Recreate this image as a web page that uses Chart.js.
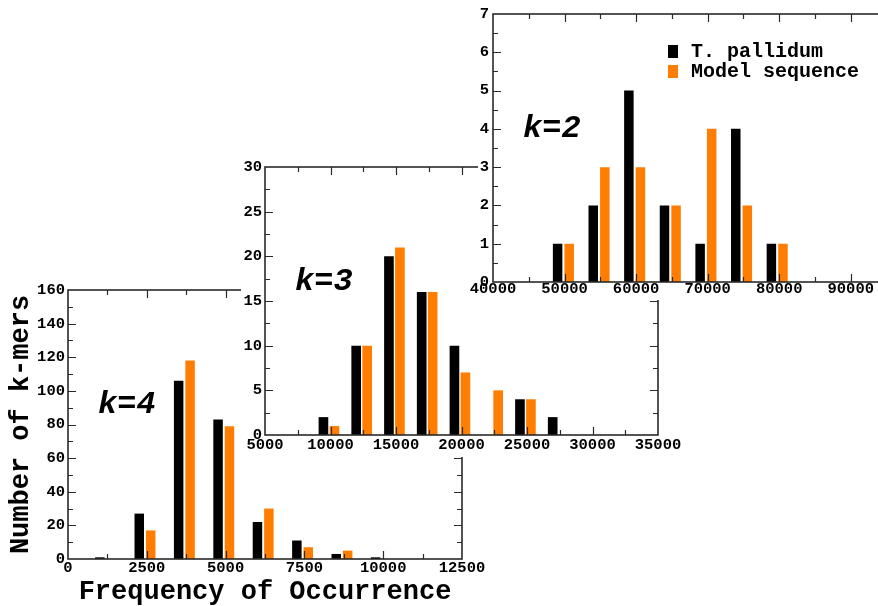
<!DOCTYPE html>
<html>
<head>
<meta charset="utf-8">
<script src="https://cdn.jsdelivr.net/npm/chart.js@4.4.0/dist/chart.umd.min.js"></script>
<style>
  body { margin: 0; background: #fff; }
  #figure { position: relative; width: 878px; height: 606px; overflow: hidden; background: #fff; }
  .panel { position: absolute; background: #fff; }
  canvas { display: block; }
</style>
</head>
<body>
<div id="figure">
  <div class="panel" style="left:0;top:0;width:878px;height:606px"><canvas id="chartK4" width="878" height="606"></canvas></div>
  <div class="panel" style="left:241px;top:150px;width:459px;height:307px"><canvas id="chartK3" width="459" height="307"></canvas></div>
  <!-- canvas hangs 13px left of the white box so the first tick label is not cut -->
  <div class="panel" style="left:478px;top:0;width:420px;height:300px"><canvas id="chartK2" width="433" height="300" style="margin-left:-13px"></canvas></div>
</div>
<script>
// k=4
const k4Bins = [-58, 1192, 2442, 3692, 4942, 6192, 7442, 8692, 9942];
const k4Pallidum = [0, 1, 27, 106, 83, 22, 11, 3, 1];
const k4Model = [0, 0, 17, 118, 79, 30, 7, 5, 0];
const k4XTicks = [0, 2500, 5000, 7500, 10000, 12500];
const k4YTicks = [0, 20, 40, 60, 80, 100, 120, 140, 160];

// k=3
const k3Bins = [7380, 9880, 12380, 14880, 17380, 19880, 22380, 24880, 27380];
const k3Pallidum = [0, 2, 10, 20, 16, 10, 0, 4, 2];
const k3Model = [0, 1, 10, 21, 16, 7, 5, 4, 0];
const k3XTicks = [5000, 10000, 15000, 20000, 25000, 30000, 35000];
const k3YTicks = [0, 5, 10, 15, 20, 25, 30];

// k=2
const k2Bins = [44860, 49840, 54820, 59800, 64780, 69760, 74740, 79720, 84700];
const k2Pallidum = [0, 1, 2, 5, 2, 1, 4, 1, 0];
const k2Model = [0, 1, 3, 3, 2, 4, 2, 1, 0];
const k2XTicks = [40000, 50000, 60000, 70000, 80000, 90000];
const k2YTicks = [0, 1, 2, 3, 4, 5, 6, 7];

const seriesNames = ['T. pallidum', 'Model sequence'];
const seriesColors = ['#000000', '#ff7d00'];

const mono = '"Liberation Mono", "Courier New", monospace';
const tickFont = { family: mono, weight: 'bold', size: 15.5 };

function midpoints(vals) {
  const out = [];
  for (let i = 1; i < vals.length; i++) out.push((vals[i - 1] + vals[i]) / 2);
  return out;
}

// frame with inward ticks on all sides, panel label, legend
const panelDecor = {
  id: 'panelDecor',
  afterDatasetsDraw(chart, args, opts) {
    const { ctx, chartArea: a } = chart;
    const x = chart.scales.x, y = chart.scales.y;
    ctx.save();
    ctx.strokeStyle = '#2a2a2a';
    ctx.lineWidth = 1.2;

    const tickX = (v, len) => {
      const px = Math.round(x.getPixelForValue(v)) + 0.5;
      if (px <= a.left + 1 || px >= a.right - 1) return;
      ctx.beginPath();
      ctx.moveTo(px, a.bottom); ctx.lineTo(px, a.bottom - len);
      ctx.moveTo(px, a.top); ctx.lineTo(px, a.top + len);
      ctx.stroke();
    };
    const tickY = (v, len) => {
      const py = Math.round(y.getPixelForValue(v)) + 0.5;
      if (py <= a.top + 1 || py >= a.bottom - 1) return;
      ctx.beginPath();
      ctx.moveTo(a.left, py); ctx.lineTo(a.left + len, py);
      ctx.moveTo(a.right, py); ctx.lineTo(a.right - len, py);
      ctx.stroke();
    };
    const xs = x.ticks.map(t => t.value);
    const ys = y.ticks.map(t => t.value);
    xs.forEach(v => tickX(v, 8));
    midpoints(xs).forEach(v => tickX(v, 5));
    ys.forEach(v => tickY(v, 8));
    midpoints(ys).forEach(v => tickY(v, 5));

    ctx.lineWidth = 1.6;
    ctx.strokeRect(a.left, a.top, a.right - a.left, a.bottom - a.top);

    ctx.fillStyle = '#000';
    ctx.textAlign = 'left';
    ctx.textBaseline = 'alphabetic';
    ctx.font = 'italic bold 32px ' + mono;
    ctx.fillText(opts.label, a.left + 30, a.top + 123);

    if (opts.legend) {
      ctx.font = 'bold 20px ' + mono;
      chart.data.datasets.forEach((ds, i) => {
        const base = a.top + 43 + i * 20;
        ctx.fillStyle = ds.backgroundColor;
        ctx.fillRect(a.left + 175, base - 12, 10, 13);
        ctx.fillStyle = '#000';
        ctx.fillText(ds.label, a.left + 198, base);
      });
    }
    ctx.restore();
  }
};

function histogram(id, bins, pallidum, model, xTicks, yTicks, o) {
  const series = [pallidum, model];
  return new Chart(document.getElementById(id), {
    type: 'bar',
    data: {
      datasets: series.map((vals, s) => ({
        label: seriesNames[s],
        data: bins.map((b, i) => ({ x: b, y: vals[i] })),
        backgroundColor: seriesColors[s],
        borderWidth: 0,
        categoryPercentage: o.cat,
        barPercentage: o.bar,
        clip: 0
      }))
    },
    options: {
      responsive: false,
      animation: false,
      layout: { padding: o.padding },
      plugins: {
        legend: { display: false },
        tooltip: { enabled: false },
        panelDecor: { label: o.label, legend: o.legend }
      },
      scales: {
        x: {
          type: 'linear',
          offset: false,
          min: xTicks[0],
          max: o.xMax || xTicks[xTicks.length - 1],
          afterBuildTicks: s => { s.ticks = xTicks.map(v => ({ value: v })); },
          // fixed axis size, labels may hang over the panel edges
          afterFit: s => { s.height = o.xHeight; s.paddingLeft = 0; s.paddingRight = 0; },
          grid: { display: false, drawTicks: false },
          border: { display: false },
          ticks: { padding: o.xPad, maxRotation: 0, autoSkip: false, color: '#000', font: tickFont, callback: v => String(v) },
          title: o.xTitle ? {
            display: true, text: o.xTitle, color: '#000',
            font: { family: mono, weight: 'bold', size: 27, lineHeight: 1 },
            padding: { top: 0, bottom: 0 }
          } : { display: false }
        },
        y: {
          min: yTicks[0],
          max: yTicks[yTicks.length - 1],
          afterBuildTicks: s => { s.ticks = yTicks.map(v => ({ value: v })); },
          afterFit: s => { s.width = o.yWidth; s.paddingTop = 0; s.paddingBottom = 0; },
          grid: { display: false, drawTicks: false },
          border: { display: false },
          ticks: { padding: o.yPad, autoSkip: false, color: '#000', font: tickFont, callback: v => String(v) },
          title: o.yTitle ? {
            display: true, text: o.yTitle, color: '#000',
            font: { family: mono, weight: 'bold', size: 27, lineHeight: 1 },
            padding: { top: 8, bottom: 0 }
          } : { display: false }
        }
      }
    },
    plugins: [panelDecor]
  });
}

// bottom panel first, the others sit on top of it
histogram('chartK4', k4Bins, k4Pallidum, k4Model, k4XTicks, k4YTicks, {
  label: 'k=4', cat: 0.58, bar: 0.83,
  padding: { left: 0, top: 290, right: 416, bottom: 0 },
  yWidth: 68, xHeight: 47, xPad: 0, yPad: 3,
  xTitle: 'Frequency of Occurrence', yTitle: 'Number of k-mers'
});

histogram('chartK3', k3Bins, k3Pallidum, k3Model, k3XTicks, k3YTicks, {
  label: 'k=3', cat: 0.67, bar: 0.88,
  padding: { left: 0, top: 17, right: 42, bottom: 0 },
  yWidth: 24, xHeight: 22, xPad: 1, yPad: 3
});

histogram('chartK2', k2Bins, k2Pallidum, k2Model, k2XTicks, k2YTicks, {
  label: 'k=2', cat: 0.65, bar: 0.82, legend: true, xMax: 95000,
  padding: { left: 0, top: 14, right: 11.5, bottom: 0 },
  yWidth: 28, xHeight: 18, xPad: -2, yPad: 4
});
</script>
</body>
</html>
